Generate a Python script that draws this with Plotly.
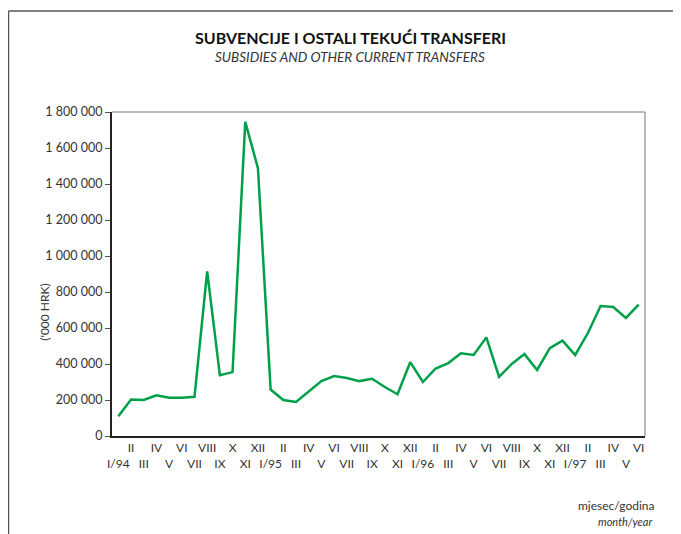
import plotly.graph_objects as go

# monthly values, I/94 .. VI/97 ('000 HRK)
months = ["I/94", "II", "III", "IV", "V", "VI", "VII", "VIII", "IX", "X", "XI", "XII",
          "I/95", "II", "III", "IV", "V", "VI", "VII", "VIII", "IX", "X", "XI", "XII",
          "I/96", "II", "III", "IV", "V", "VI", "VII", "VIII", "IX", "X", "XI", "XII",
          "I/97", "II", "III", "IV", "V", "VI"]
values = [110000, 203000, 200000, 226000, 213000, 213000, 218000, 915000, 338000, 355000,
          1745000, 1488000, 258000, 200000, 189000, 248000, 305000, 333000, 322000, 305000,
          318000, 272000, 232000, 410000, 300000, 375000, 405000, 460000, 450000, 548000,
          328000, 400000, 455000, 367000, 488000, 530000, 450000, 572000, 722000, 717000,
          656000, 730000]
ytick_vals = [0, 200000, 400000, 600000, 800000, 1000000, 1200000, 1400000, 1600000, 1800000]

x = list(range(len(months)))
# odd positions on the upper row, even positions on the lower row
tick_text = [m if i % 2 == 1 else "<br>" + m for i, m in enumerate(months)]

fig = go.Figure()
fig.add_trace(go.Scatter(x=x, y=values, mode="lines",
                         line=dict(color="#00a04b", width=2.5)))

font = "Lato, 'Open Sans', sans-serif"
# page body adds 8px around the figure, so size/margins are shifted by 8
fig.update_layout(
    width=673, height=526,
    margin=dict(l=104, r=36, t=104, b=98),
    plot_bgcolor="white", paper_bgcolor="white",
    showlegend=False,
    separators=". ",
    font=dict(family=font, color="#333333", size=12),
)
fig.update_xaxes(range=[-0.5, 41.5], tickmode="array", tickvals=x, ticktext=tick_text,
                 tickangle=0, automargin=False,
                 showgrid=False, zeroline=False, showline=True, linecolor="#222222",
                 linewidth=2, ticks="", tickfont=dict(size=12, color="#333333"))
fig.update_yaxes(range=[0, 1800000], tickmode="array", tickvals=ytick_vals,
                 tickformat=",d", showgrid=False, zeroline=False, showline=True,
                 automargin=False,
                 linecolor="#222222", linewidth=2, ticks="outside", ticklen=5,
                 tickcolor="#555555", tickfont=dict(size=12.5, color="#333333"))

# thin top/right edges of the plot box
fig.add_shape(type="line", xref="paper", yref="paper", x0=0, x1=1, y0=1, y1=1,
              line=dict(color="#777777", width=1))
fig.add_shape(type="line", xref="paper", yref="paper", x0=1, x1=1, y0=0, y1=1,
              line=dict(color="#777777", width=1))

# outer frame: left and top edges
fl, ft = -0.1942, 1.3117
fig.add_shape(type="line", xref="paper", yref="paper", x0=fl, x1=fl, y0=-0.4, y1=ft,
              line=dict(color="#555555", width=1.5))
fig.add_shape(type="line", xref="paper", yref="paper", x0=fl, x1=1.2, y0=ft, y1=ft,
              line=dict(color="#555555", width=1.5))

fig.add_annotation(text="('000 HRK)", xref="paper", yref="paper", textangle=-90,
                   x=-0.126, y=0.383, xanchor="center", yanchor="middle", showarrow=False,
                   font=dict(size=12, color="#333333", family=font))
fig.add_annotation(text="<b>SUBVENCIJE I OSTALI TEKUĆI TRANSFERI</b>", xref="paper", yref="paper",
                   x=0.447, y=1.231, xanchor="center", yanchor="middle", showarrow=False,
                   font=dict(size=16, color="#111111", family=font))
fig.add_annotation(text="<i>SUBSIDIES AND OTHER CURRENT TRANSFERS</i>", xref="paper", yref="paper",
                   x=0.447, y=1.170, xanchor="center", yanchor="middle", showarrow=False,
                   font=dict(size=13.5, color="#333333", family=font))
fig.add_annotation(text="mjesec/godina", xref="paper", yref="paper",
                   x=1.0225, y=-0.216, xanchor="right", yanchor="middle", showarrow=False,
                   font=dict(size=12, color="#333333", family=font))
fig.add_annotation(text="<i>month/year</i>", xref="paper", yref="paper",
                   x=1.017, y=-0.265, xanchor="right", yanchor="middle", showarrow=False,
                   font=dict(size=11, color="#333333", family=font))

fig.write_html("out.html")
